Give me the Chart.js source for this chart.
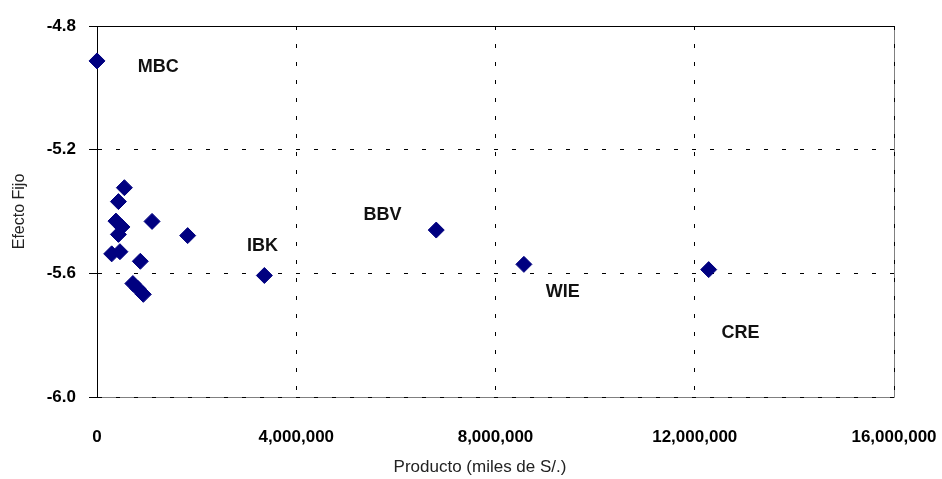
<!DOCTYPE html>
<html>
<head>
<meta charset="utf-8">
<script src="https://cdn.jsdelivr.net/npm/chart.js@4.4.1/dist/chart.umd.min.js"></script>
<style>
  html, body { margin: 0; padding: 0; background: #fff; }
  #grafico { display: block; }
</style>
</head>
<body>
<canvas id="grafico" width="942" height="479"></canvas>
<script>
// Producto (miles de S/.) y efecto fijo de cada entidad
const producto = [0, 550000, 430000, 380000, 500000, 430000, 1105000, 1820000, 295000, 460000, 870000, 720000, 820000, 930000, 3360000, 6810000, 8570000, 12280000];
const efectoFijo = [-4.913, -5.323, -5.368, -5.431, -5.450, -5.474, -5.432, -5.478, -5.537, -5.530, -5.561, -5.633, -5.649, -5.668, -5.607, -5.460, -5.571, -5.588];

// Etiquetas de las entidades (posición en unidades de los ejes)
const etiquetas = ['MBC', 'IBK', 'BBV', 'WIE', 'CRE'];
const etiquetaX = [1230000, 3320000, 5730000, 9350000, 12920000];
const etiquetaY = [-4.933, -5.513, -5.412, -5.662, -5.792];

// Ticks de los ejes
const ticksX = [0, 4000000, 8000000, 12000000, 16000000];
const ticksY = [-6.0, -5.6, -5.2, -4.8];

const tituloX = 'Producto (miles de S/.)';
const FUENTE = '"Liberation Sans", Arial, sans-serif';

// Marco del área de trazado (arriba negro, derecha y abajo gris)
const marco = {
    id: 'marco',
    beforeDraw(chart) {
        const { ctx, chartArea: a } = chart;
        ctx.save();
        ctx.lineWidth = 1;
        ctx.strokeStyle = '#808080';
        ctx.beginPath();
        ctx.moveTo(a.right + 0.5, a.top);
        ctx.lineTo(a.right + 0.5, a.bottom + 0.5);
        ctx.lineTo(a.left, a.bottom + 0.5);
        ctx.stroke();
        ctx.strokeStyle = '#000';
        ctx.beginPath();
        ctx.moveTo(a.left, a.top + 0.5);
        ctx.lineTo(a.right + 1, a.top + 0.5);
        ctx.stroke();
        ctx.restore();
    }
};

// Nombres de las entidades junto a los puntos, y título del eje X centrado en el gráfico
const nombres = {
    id: 'nombres',
    afterDatasetsDraw(chart) {
        const { ctx, scales } = chart;
        ctx.save();
        ctx.font = 'bold 18px ' + FUENTE;
        ctx.fillStyle = '#111';
        ctx.textAlign = 'center';
        ctx.textBaseline = 'middle';
        etiquetas.forEach((txt, i) => {
            ctx.fillText(txt, scales.x.getPixelForValue(etiquetaX[i]), scales.y.getPixelForValue(etiquetaY[i]));
        });
        ctx.font = '17px ' + FUENTE;
        ctx.fillStyle = '#222';
        ctx.fillText(tituloX, chart.width / 2 + 9, 467);
        ctx.restore();
    }
};

const puntos = producto.map((p, i) => ({ x: p, y: efectoFijo[i] }));

new Chart(document.getElementById('grafico'), {
    type: 'scatter',
    data: {
        datasets: [{
            data: puntos,
            pointStyle: 'rectRot',
            pointRadius: 8,
            pointHoverRadius: 8,
            backgroundColor: '#000080',
            borderColor: '#000080',
            borderWidth: 1,
            clip: false
        }]
    },
    options: {
        responsive: false,
        animation: false,
        events: [],
        layout: { padding: { top: 26, right: 48, bottom: 0, left: 0 } },
        plugins: {
            legend: { display: false },
            tooltip: { enabled: false }
        },
        scales: {
            x: {
                type: 'linear',
                min: 0,
                max: 16000000,
                afterFit: (s) => { s.height = 82; s.paddingLeft = 0; s.paddingRight = 0; },
                afterBuildTicks: (s) => { s.ticks = ticksX.map(v => ({ value: v })); },
                ticks: {
                    padding: 30,
                    color: '#000',
                    font: { family: FUENTE, size: 17, weight: 'bold' },
                    maxRotation: 0,
                    callback: (v) => Number(v).toLocaleString('en-US')
                },
                grid: {
                    drawTicks: false,
                    color: (c) => (c.tick && c.tick.value > 0) ? '#000' : 'rgba(0,0,0,0)'
                },
                border: { display: false, dash: [4, 14] },
                title: { display: false }
            },
            y: {
                type: 'linear',
                min: -6.0,
                max: -4.8,
                afterFit: (s) => { s.width = 97; s.paddingTop = 0; s.paddingBottom = 0; },
                afterBuildTicks: (s) => { s.ticks = ticksY.map(v => ({ value: v })); },
                ticks: {
                    padding: 13,
                    color: '#000',
                    font: { family: FUENTE, size: 17, weight: 'bold' },
                    callback: (v) => Number(v).toFixed(1)
                },
                grid: {
                    tickLength: 8,
                    tickColor: '#000',
                    color: (c) => (c.tick && c.tick.value > -4.85) ? 'rgba(0,0,0,0)' : '#000'
                },
                border: { display: true, color: '#000', width: 1, dash: [4, 14] },
                title: {
                    display: true,
                    text: 'Efecto Fijo',
                    color: '#222',
                    font: { family: FUENTE, size: 16 },
                    padding: { top: 10 }
                }
            }
        }
    },
    plugins: [marco, nombres]
});
</script>
</body>
</html>
